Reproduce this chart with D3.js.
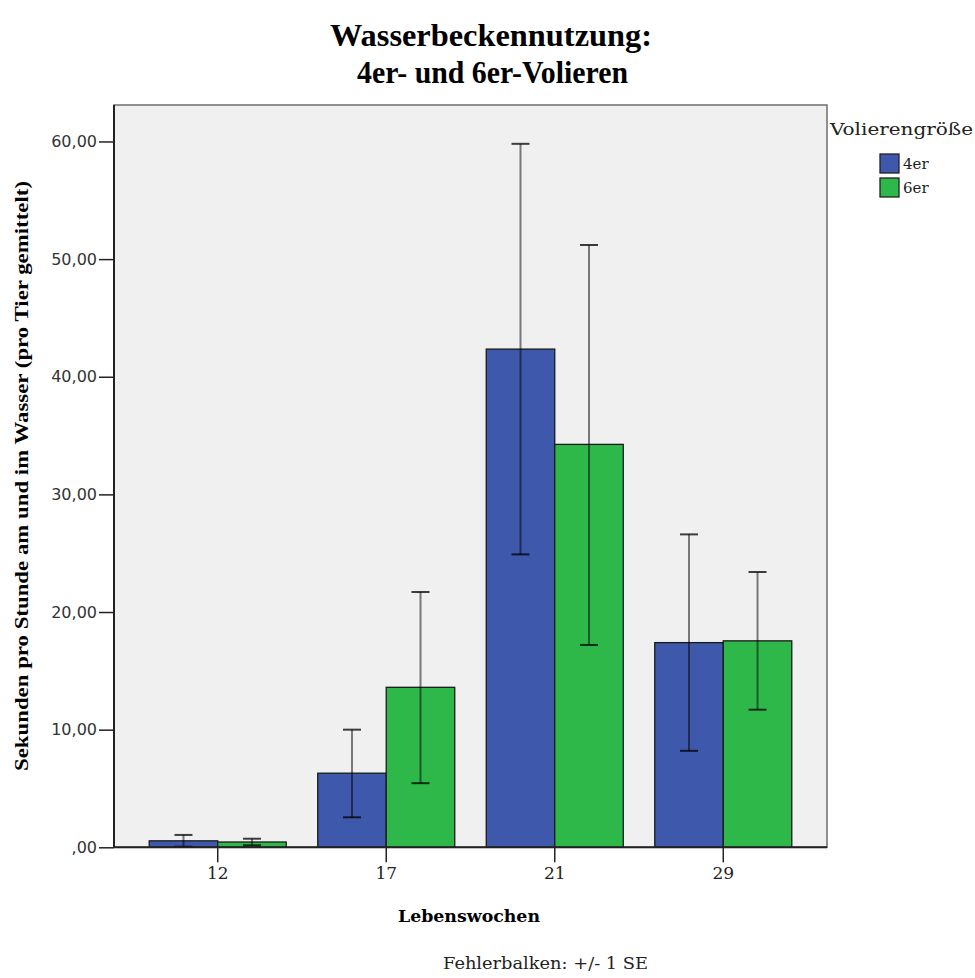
<!DOCTYPE html>
<html><head><meta charset="utf-8">
<script src="https://cdn.jsdelivr.net/npm/d3@7"></script>
<style>body{margin:0;background:#fff}svg{display:block}</style>
</head><body>
<svg id="c" width="975" height="978"></svg>
<script>
const categories = ["12", "17", "21", "29"];
const series = ["4er", "6er"];
const mean4 = [0.55, 6.3, 42.35, 17.4];
const low4  = [0.05, 2.55, 24.9, 8.2];
const high4 = [1.05, 10.0, 59.8, 26.6];
const mean6 = [0.45, 13.6, 34.25, 17.55];
const low6  = [0.17, 5.45, 17.2, 11.7];
const high6 = [0.73, 21.7, 51.2, 23.4];
const yTicks = [0, 10, 20, 30, 40, 50, 60];
const colors = ["#3e58ac", "#2fb84a"];

const data = categories.map((c, i) => ({
  cat: c,
  vals: [
    {s: series[0], m: mean4[i], lo: low4[i], hi: high4[i]},
    {s: series[1], m: mean6[i], lo: low6[i], hi: high6[i]}
  ]
}));

const svg = d3.select("#c");
const L = 114, R = 827, T = 105, B = 847.3;
const y = d3.scaleLinear().domain([0, 63.1]).range([B, T]);
const x0 = d3.scaleBand().domain(categories).range([L, R]).paddingInner(0.187).paddingOuter(0.209);
const x1 = d3.scaleBand().domain(series).range([0, x0.bandwidth()]);
const color = d3.scaleOrdinal().domain(series).range(colors);
const SERIF = "'DejaVu Serif', serif";

// plot background
svg.append("rect").attr("x", L).attr("y", T).attr("width", R - L).attr("height", B - T)
  .attr("fill", "#f0f0f0").attr("stroke", "#6e6e6e").attr("stroke-width", 1.5);

// bars
const g = svg.selectAll("g.grp").data(data).join("g")
  .attr("transform", d => `translate(${x0(d.cat)},0)`);
g.selectAll("rect").data(d => d.vals).join("rect")
  .attr("x", d => x1(d.s)).attr("width", x1.bandwidth())
  .attr("y", d => y(d.m)).attr("height", d => y(0) - y(d.m))
  .attr("fill", d => color(d.s)).attr("stroke", "#1a1a1a").attr("stroke-width", 1.3);

// error bars
const eb = g.selectAll("g.eb").data(d => d.vals).join("g")
  .attr("transform", d => `translate(${x1(d.s) + x1.bandwidth() / 2},0)`)
  .attr("stroke", "#000").attr("stroke-opacity", 0.5).attr("stroke-width", 2);
eb.append("line").attr("x1", 0).attr("x2", 0).attr("y1", d => y(d.lo)).attr("y2", d => y(d.hi));
eb.append("line").attr("x1", -9).attr("x2", 9).attr("y1", d => y(d.hi)).attr("y2", d => y(d.hi)).attr("stroke-opacity", 0.75);
eb.append("line").attr("x1", -9).attr("x2", 9).attr("y1", d => y(d.lo)).attr("y2", d => y(d.lo)).attr("stroke-opacity", 0.75);

// y axis
const fmt = v => v === 0 ? ",00" : v.toFixed(2).replace(".", ",");
const ya = svg.append("g").attr("transform", `translate(${L},0)`)
  .call(d3.axisLeft(y).tickValues(yTicks).tickFormat(fmt).tickSize(15).tickPadding(2));
ya.select(".domain").attr("stroke", "#222").attr("stroke-width", 2).attr("d", `M0,${T}V${B}`);
ya.selectAll(".tick line").attr("stroke", "#222").attr("stroke-width", 1.5);
ya.selectAll(".tick text").attr("font-family", "'DejaVu Sans', Tahoma, sans-serif")
  .attr("font-size", 16).attr("fill", "#333");

// x axis
const xa = svg.append("g").attr("transform", `translate(0,${B})`)
  .call(d3.axisBottom(x0).tickSize(15).tickPadding(5));
xa.select(".domain").attr("stroke", "#222").attr("stroke-width", 2).attr("d", `M${L},0H${R}`);
xa.selectAll(".tick line").attr("stroke", "#222").attr("stroke-width", 1.5);
xa.selectAll(".tick text").attr("font-family", SERIF)
  .attr("font-size", 17).attr("fill", "#222");

// titles
const title = svg.append("g")
  .attr("font-family", "'Liberation Serif', 'Times New Roman', serif").attr("font-weight", "bold")
  .attr("font-size", 32).attr("fill", "#000");
title.append("text").attr("x", 330).attr("y", 46).attr("textLength", 322).attr("lengthAdjust", "spacingAndGlyphs")
  .text("Wasserbeckennutzung:");
title.append("text").attr("x", 357).attr("y", 83).attr("textLength", 271).attr("lengthAdjust", "spacingAndGlyphs")
  .text("4er- und 6er-Volieren");

svg.append("text").attr("transform", "translate(28,476) rotate(-90)").attr("text-anchor", "middle")
  .attr("font-family", "'Liberation Serif', serif").attr("font-weight", "bold").attr("font-size", 19)
  .attr("textLength", 590).attr("lengthAdjust", "spacingAndGlyphs")
  .text("Sekunden pro Stunde am und im Wasser (pro Tier gemittelt)");

svg.append("text").attr("x", 398).attr("y", 922)
  .attr("font-family", SERIF).attr("font-weight", "bold").attr("font-size", 16)
  .attr("textLength", 142).attr("lengthAdjust", "spacingAndGlyphs")
  .text("Lebenswochen");

svg.append("text").attr("x", 443).attr("y", 969)
  .attr("font-family", SERIF).attr("font-size", 16).attr("fill", "#222")
  .attr("textLength", 205).attr("lengthAdjust", "spacingAndGlyphs")
  .text("Fehlerbalken: +/- 1 SE");

// legend
svg.append("text").attr("x", 830).attr("y", 135)
  .attr("font-family", SERIF).attr("font-size", 16).attr("fill", "#222")
  .attr("textLength", 143).attr("lengthAdjust", "spacingAndGlyphs")
  .text("Volierengröße");
const lg = svg.selectAll("g.lg").data(series).join("g")
  .attr("transform", (d, i) => `translate(880,${154 + i * 24})`);
lg.append("rect").attr("width", 19).attr("height", 19).attr("fill", d => color(d))
  .attr("stroke", "#222").attr("stroke-width", 1.3);
lg.append("text").attr("x", 23).attr("y", 15)
  .attr("font-family", SERIF).attr("font-size", 15).attr("fill", "#222")
  .text(d => d);
</script>
</body></html>
